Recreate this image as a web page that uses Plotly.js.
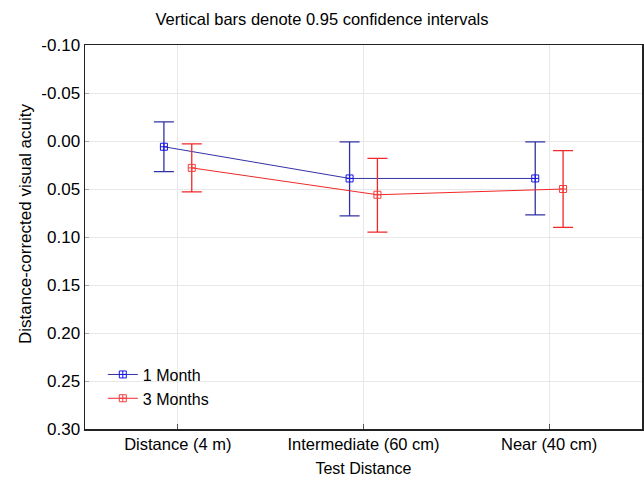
<!DOCTYPE html>
<html>
<head>
<meta charset="utf-8">
<script src="https://cdn.plot.ly/plotly-3.0.1.min.js"></script>
<style>html,body{margin:0;padding:0;background:#fff;}#chart{width:644px;height:477px;}</style>
</head>
<body>
<div id="chart"></div>
<script>
var categories = ["Distance (4 m)", "Intermediate (60 cm)", "Near (40 cm)"];
var seriesNames = ["1 Month", "3 Months"];
var month1Mean = [0.006, 0.039, 0.039];
var month1Lower = [-0.020, 0.001, 0.001];
var month1Upper = [0.032, 0.078, 0.077];
var month3Mean = [0.028, 0.056, 0.050];
var month3Lower = [0.003, 0.018, 0.010];
var month3Upper = [0.053, 0.095, 0.090];
var yTicks = [-0.10, -0.05, 0.00, 0.05, 0.10, 0.15, 0.20, 0.25, 0.30];

var idx = categories.map(function(c, i){ return i; });
var dodge = 0.075;

function mk(name, mean, lo, hi, off, lineColor, markColor) {
  return {
    type: 'scatter', mode: 'lines+markers', name: name,
    x: idx.map(function(i){ return i + off; }),
    y: mean,
    line: {color: lineColor, width: 1},
    marker: {symbol: 'square-cross-open', size: 7, color: markColor, line: {width: 1, color: markColor}},
    error_y: {type: 'data', symmetric: false,
      array: mean.map(function(m, i){ return hi[i] - m; }),
      arrayminus: mean.map(function(m, i){ return m - lo[i]; }),
      color: lineColor, thickness: 1.3, width: 10}
  };
}

var traces = [
  mk(seriesNames[0], month1Mean, month1Lower, month1Upper, -dodge, 'rgb(50,50,165)', 'rgb(20,20,235)'),
  mk(seriesNames[1], month3Mean, month3Lower, month3Upper, dodge, 'rgb(240,40,40)', 'rgb(245,60,60)')
];

var layout = {
  width: 644, height: 477,
  margin: {l: 85, r: 2, t: 45, b: 48},
  paper_bgcolor: '#fff', plot_bgcolor: '#fff',
  font: {family: 'Liberation Sans, Arial, sans-serif', color: '#000', size: 16},
  title: {text: 'Vertical bars denote 0.95 confidence intervals', font: {size: 16.5, color: '#000'}, x: 0.5, xanchor: 'center', y: 0.96, yanchor: 'middle'},
  showlegend: true,
  legend: {x: 0.032, y: 0.035, xanchor: 'left', yanchor: 'bottom', bgcolor: 'rgba(0,0,0,0)', font: {size: 16}, tracegroupgap: 0, itemwidth: 30},
  xaxis: {
    range: [-0.5, 2.5], tickvals: idx, ticktext: categories,
    showgrid: true, gridcolor: '#e8e8e8', zeroline: false,
    showline: true, linecolor: '#222', linewidth: 1.5, mirror: true,
    ticks: 'inside', ticklen: 5, tickcolor: '#555',
    tickfont: {size: 16.5},
    title: {text: 'Test Distance', font: {size: 16}, standoff: 10}
  },
  yaxis: {
    range: [0.30, -0.10], tickvals: yTicks, ticktext: yTicks.map(function(v){ return v.toFixed(2); }),
    showgrid: true, gridcolor: '#e8e8e8', zeroline: false,
    showline: true, linecolor: '#222', linewidth: 1.5, mirror: true,
    ticks: 'inside', ticklen: 4, tickcolor: '#aaa',
    tickfont: {size: 17}
  },
  annotations: [{
    text: 'Distance-corrected visual acuity', textangle: -90,
    xref: 'paper', yref: 'paper', x: -0.107, y: 0.535,
    xanchor: 'center', yanchor: 'middle', showarrow: false,
    font: {size: 17}
  }]
};

Plotly.newPlot('chart', traces, layout, {displayModeBar: false, staticPlot: true});
</script>
</body>
</html>
